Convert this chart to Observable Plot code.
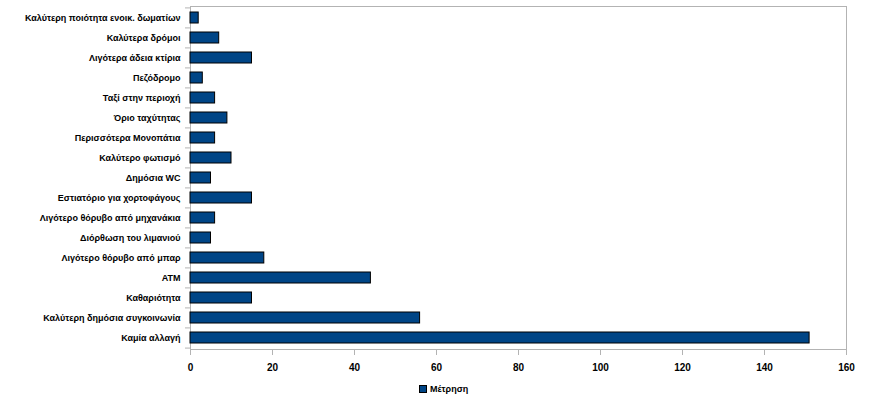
<!DOCTYPE html>
<html>
<head>
<meta charset="utf-8">
<script src="https://cdn.jsdelivr.net/npm/d3@7"></script>
<script src="https://cdn.jsdelivr.net/npm/@observablehq/plot@0.6"></script>
<style>
  body { margin: 0; background: #fff; font-family: "Liberation Sans", Arial, sans-serif; }
  #legend { position: relative; height: 40px; font: bold 9px "Liberation Sans", Arial, sans-serif; }
  #legend .sw { position: absolute; left: 419px; top: 10px; width: 8px; height: 8px; background: #004586; border: 1px solid #000; box-sizing: border-box; }
  #legend .lb { position: absolute; left: 430px; top: 9px; }
</style>
</head>
<body>
<div id="chart"></div>
<div id="legend"><div class="sw"></div><div class="lb">Μέτρηση</div></div>
<script>
const categories = [
  "Καλύτερη ποιότητα ενοικ. δωματίων",
  "Καλύτερα δρόμοι",
  "Λιγότερα άδεια κτίρια",
  "Πεζόδρομο",
  "Ταξί στην περιοχή",
  "Όριο ταχύτητας",
  "Περισσότερα Μονοπάτια",
  "Καλύτερο φωτισμό",
  "Δημόσια WC",
  "Εστιατόριο για χορτοφάγους",
  "Λιγότερο θόρυβο από μηχανάκια",
  "Διόρθωση του λιμανιού",
  "Λιγότερο θόρυβο από μπαρ",
  "ATM",
  "Καθαριότητα",
  "Καλύτερη δημόσια συγκοινωνία",
  "Καμία αλλαγή"
];
const values = [2, 7, 15, 3, 6, 9, 6, 10, 5, 15, 6, 5, 18, 44, 15, 56, 151];
const seriesName = "Μέτρηση";
const xTicks = [0, 20, 40, 60, 80, 100, 120, 140, 160];

const data = categories.map((c, i) => ({category: c, value: values[i]}));

const W = 892, H = 375, mt = 6, mb = 26, ml = 190, mr = 46;
const step = (H - mt - mb) / categories.length;
const tickLen = 5 * 160 / (W - ml - mr);

const plot = Plot.plot({
  width: W,
  height: H,
  marginLeft: ml,
  marginRight: mr,
  marginTop: mt,
  marginBottom: mb,
  style: {fontFamily: "Liberation Sans, Arial, sans-serif", fontWeight: "bold", fontSize: "9px", color: "#000", background: "#fff"},
  x: {domain: [0, 160], label: null, ticks: xTicks, tickFormat: d => String(d)},
  y: {domain: categories, label: null, paddingInner: 0.45, paddingOuter: 0.225, align: 0.5},
  marks: [
    Plot.frame({stroke: "#b3b3b3", strokeWidth: 1}),
    Plot.barX(data, {y: "category", x: "value", fill: "#004586", stroke: "#000", strokeWidth: 1}),
    Plot.axisX({ticks: xTicks, tickSize: 6, tickPadding: 8, stroke: "#b3b3b3", fontSize: 10, fill: "#000", label: null}),
    Plot.axisY({tickSize: 0, tickPadding: 10, fontSize: 9, fill: "#000", label: null}),
    Plot.ruleY(categories, {y: d => d, x1: -tickLen, x2: 0, dy: -step / 2, stroke: "#b3b3b3", clip: false}),
    Plot.ruleY([categories[categories.length - 1]], {y: d => d, x1: -tickLen, x2: 0, dy: step / 2, stroke: "#b3b3b3"})
  ]
});
document.getElementById("chart").appendChild(plot);
</script>
</body>
</html>
